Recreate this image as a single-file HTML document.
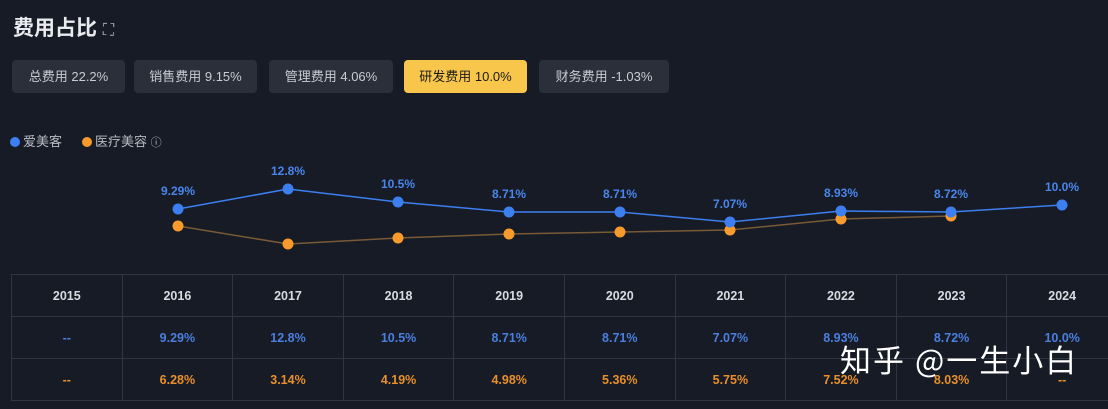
<!DOCTYPE html>
<html><head><meta charset="utf-8"><style>
body{margin:0;width:1108px;height:409px;background:#161b25;overflow:hidden;font-family:"Liberation Sans","Noto Sans CJK SC",sans-serif;position:relative}
.t{position:absolute;left:13px;top:12px;color:#e8eaee;font-size:21px;font-weight:bold}
.b{position:absolute;top:60px;height:33px;background:#2a2f39;border-radius:4px;color:#c8ccd3;font-size:13px;line-height:33px;text-align:center}
.b.on{background:#f8c64a;color:#1a1a1a}
.lg{position:absolute;top:131px;font-size:13px;color:#b8bcc4}
.dot{display:inline-block;width:10px;height:10px;border-radius:50%;vertical-align:-1px;margin-right:3px}
table{position:absolute;left:11px;top:274px;border-collapse:collapse;font-weight:bold;font-size:12.5px;table-layout:fixed;width:1107px}
td{border:1px solid #2f3542;text-align:center;padding:0}
tr{height:42px}
.h td{color:#d8dbe0}
.bl td{color:#4a7fe0}
.or td{color:#e98f2a}
.wm{position:absolute;left:840px;top:336px;color:#fff;font-size:31px;font-family:"Noto Sans CJK SC",sans-serif;letter-spacing:2px}
</style></head><body>
<div class="t">费用占比 <span style="font-size:16px;font-weight:normal;color:#aab">⛶</span></div>
<div class="b" style="left:12px;width:113px">总费用 22.2%</div>
<div class="b" style="left:134px;width:123px">销售费用 9.15%</div>
<div class="b" style="left:269px;width:124px">管理费用 4.06%</div>
<div class="b on" style="left:404px;width:123px">研发费用 10.0%</div>
<div class="b" style="left:539px;width:130px">财务费用 -1.03%</div>
<div class="lg" style="left:10px"><span class="dot" style="background:#3d7ff0"></span>爱美客</div>
<div class="lg" style="left:82px"><span class="dot" style="background:#f99a2c"></span>医疗美容 <span style="font-size:11px">ⓘ</span></div>
<svg style="position:absolute;left:0;top:0" width="1108" height="270">
<polyline fill="none" stroke="#7a5a36" stroke-width="1.5" points="178,226 288,244 398,238 509,234 620,232 730,230 841,219 951,216"/>
<g fill="#f99a2c"><circle cx="178" cy="226" r="5.5"/><circle cx="288" cy="244" r="5.5"/><circle cx="398" cy="238" r="5.5"/><circle cx="509" cy="234" r="5.5"/><circle cx="620" cy="232" r="5.5"/><circle cx="730" cy="230" r="5.5"/><circle cx="841" cy="219" r="5.5"/><circle cx="951" cy="216" r="5.5"/></g>
<polyline fill="none" stroke="#3d7ff0" stroke-width="1.5" points="178,209 288,189 398,202 509,212 620,212 730,222 841,211 951,212 1062,205"/>
<g fill="#3d7ff0"><circle cx="178" cy="209" r="5.5"/><circle cx="288" cy="189" r="5.5"/><circle cx="398" cy="202" r="5.5"/><circle cx="509" cy="212" r="5.5"/><circle cx="620" cy="212" r="5.5"/><circle cx="730" cy="222" r="5.5"/><circle cx="841" cy="211" r="5.5"/><circle cx="951" cy="212" r="5.5"/><circle cx="1062" cy="205" r="5.5"/></g>
<g fill="#4a86ec" font-size="12" font-weight="bold" text-anchor="middle" font-family="Liberation Sans,sans-serif">
<text x="178" y="195">9.29%</text><text x="288" y="175">12.8%</text><text x="398" y="188">10.5%</text><text x="509" y="198">8.71%</text><text x="620" y="198">8.71%</text><text x="730" y="208">7.07%</text><text x="841" y="197">8.93%</text><text x="951" y="198">8.72%</text><text x="1062" y="191">10.0%</text></g>
</svg>
<table>
<tr class="h"><td>2015</td><td>2016</td><td>2017</td><td>2018</td><td>2019</td><td>2020</td><td>2021</td><td>2022</td><td>2023</td><td>2024</td></tr>
<tr class="bl"><td>--</td><td>9.29%</td><td>12.8%</td><td>10.5%</td><td>8.71%</td><td>8.71%</td><td>7.07%</td><td>8.93%</td><td>8.72%</td><td>10.0%</td></tr>
<tr class="or"><td>--</td><td>6.28%</td><td>3.14%</td><td>4.19%</td><td>4.98%</td><td>5.36%</td><td>5.75%</td><td>7.52%</td><td>8.03%</td><td>--</td></tr>
</table>
<div class="wm">知乎 @一生小白</div>
</body></html>
